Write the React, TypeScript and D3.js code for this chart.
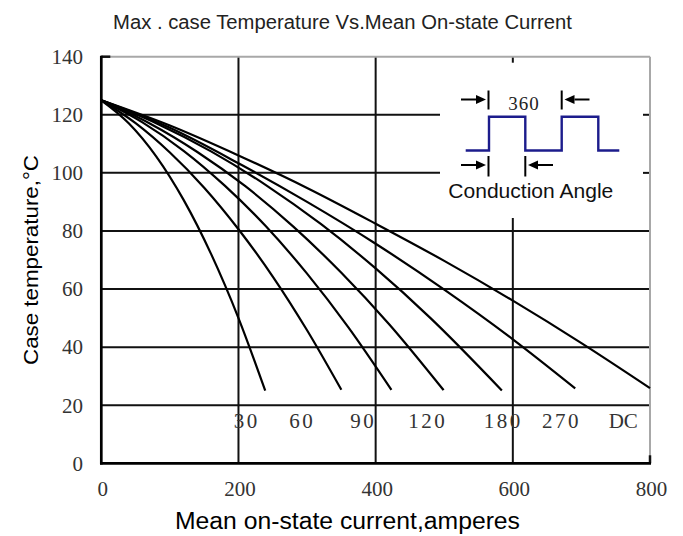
import React from "react";
import * as d3 from "d3";

// ---- data ----
const xTicks = [0, 200, 400, 600, 800];
const yTicks = [0, 20, 40, 60, 80, 100, 120, 140];

const curve30: [number, number][] = [[0, 125], [40, 117.1], [80, 105.7], [120, 90.7], [160, 72.1], [200, 50.0], [239, 25.0]];
const curve60: [number, number][] = [[0, 125], [50, 117.1], [100, 107.0], [150, 94.9], [200, 80.6], [250, 64.3], [300, 45.8], [350, 25.3]];
const curve90: [number, number][] = [[0, 125], [60, 117.4], [120, 107.6], [180, 95.6], [240, 81.6], [300, 65.3], [360, 46.9], [423, 25.3]];
const curve120: [number, number][] = [[0, 125], [70, 117.1], [140, 107.2], [210, 95.4], [280, 81.5], [350, 65.6], [420, 47.8], [499, 25.2]];
const curve180: [number, number][] = [[0, 125], [80, 117.1], [160, 107.4], [240, 95.8], [320, 82.4], [400, 67.1], [480, 50.0], [584, 25.1]];
const curve270: [number, number][] = [[0, 125], [100, 115.5], [200, 103.3], [300, 90.0], [400, 75.6], [500, 59.8], [600, 42.7], [691, 25.8]];
const curveDC: [number, number][] = [[0, 125], [100, 116.3], [200, 106.0], [300, 94.8], [400, 82.5], [500, 69.7], [600, 56.0], [700, 41.4], [800, 25.9]];

const curves = [curve30, curve60, curve90, curve120, curve180, curve270, curveDC];
const curveLabels = ["30", "60", "90", "120", "180", "270", "DC"];
const curveLabelAt = [212, 293, 382, 476, 586, 671, 761]; // amperes
const curveLabelT = 12;

const title = "Max . case Temperature Vs.Mean On-state Current";
const xLabel = "Mean  on-state current,amperes";
const yLabel = "Case temperature,°C";
const insetPeriod = "360";
const insetCaption = "Conduction Angle";

// ---- layout ----
const W = 683;
const H = 536;
const x = d3.scaleLinear().domain([0, 800]).range([101.3, 650]);
const y = d3.scaleLinear().domain([0, 140]).range([463.3, 56.7]);

const SERIF = "'Liberation Serif', 'Times New Roman', serif";
const SANS = "'Liberation Sans', Arial, sans-serif";

const insetLeft = 440;
const insetBottom = 218;

function Arrow({ tipX, y0, dir }: { tipX: number; y0: number; dir: 1 | -1 }) {
  // dir 1: points right (tail on left), -1: points left
  const len = 25;
  const head = 10;
  const tail = tipX - dir * len;
  const base = tipX - dir * head;
  return (
    <g>
      <line x1={tail} y1={y0} x2={base} y2={y0} stroke="#000" strokeWidth={2} />
      <path d={`M${tipX},${y0} L${base},${y0 - 4.5} L${base},${y0 + 4.5} Z`} fill="#000" />
    </g>
  );
}

export default function App() {
  const line = d3
    .line<[number, number]>()
    .x((d) => x(d[0]))
    .y((d) => y(d[1]))
    .curve(d3.curveMonotoneX);

  const x0 = x(0);
  const x1 = x(800);
  const yTop = y(140);
  const yBot = y(0);

  // square wave
  const wLow = 150.5;
  const wHigh = 116.7;
  const wx = [465.7, 489, 525.3, 561.7, 598.3, 619.3];
  const wave = `M${wx[0]},${wLow} L${wx[1]},${wLow} L${wx[1]},${wHigh} L${wx[2]},${wHigh} L${wx[2]},${wLow} L${wx[3]},${wLow} L${wx[3]},${wHigh} L${wx[4]},${wHigh} L${wx[4]},${wLow} L${wx[5]},${wLow}`;

  return (
    <svg width={W} height={H} style={{ display: "block", position: "absolute", left: 0, top: 0, background: "#fff" }}>
      <rect x={0} y={0} width={W} height={H} fill="#fff" />
      {/* title */}
      <text x={342.5} y={29} textAnchor="middle" fontFamily={SANS} fontSize={20} fill="#222" textLength={459} lengthAdjust="spacingAndGlyphs">
        {title}
      </text>

      {/* horizontal grid */}
      {yTicks
        .filter((t) => t > 0 && t < 140)
        .map((t) => {
          const inInset = y(t) < insetBottom;
          return (
            <g key={"h" + t}>
              <line x1={x0} x2={inInset ? insetLeft : x1} y1={y(t)} y2={y(t)} stroke="#111" strokeWidth={2} />
              {inInset && <line x1={x1 - 7} x2={x1} y1={y(t)} y2={y(t)} stroke="#111" strokeWidth={2} />}
            </g>
          );
        })}
      {/* vertical grid */}
      {xTicks
        .filter((t) => t > 0 && t < 800)
        .map((t) => {
          const inInset = x(t) > insetLeft;
          return (
            <g key={"v" + t}>
              <line x1={x(t)} x2={x(t)} y1={inInset ? insetBottom : yTop} y2={yBot} stroke="#111" strokeWidth={2} />
              {inInset && <line x1={x(t)} x2={x(t)} y1={yTop} y2={yTop + 6} stroke="#111" strokeWidth={2} />}
            </g>
          );
        })}

      {/* frame */}
      <line x1={x0} x2={x1} y1={yTop} y2={yTop} stroke="#a8a8a8" strokeWidth={2} />
      <line x1={x1} x2={x1} y1={yTop} y2={yBot} stroke="#a8a8a8" strokeWidth={2} />
      <line x1={x0} x2={x0 + 9} y1={yTop} y2={yTop} stroke="#111" strokeWidth={2.5} />
      <line x1={x1} x2={x1} y1={yBot} y2={yBot - 8} stroke="#111" strokeWidth={2.5} />
      <line x1={x0} x2={x0} y1={yTop - 1} y2={yBot + 1.3} stroke="#000" strokeWidth={2.7} />
      <line x1={x0 - 1.3} x2={x1 + 1} y1={yBot} y2={yBot} stroke="#000" strokeWidth={2.7} />

      {/* curves */}
      {curves.map((c, i) => (
        <path key={"c" + i} d={line(c) || ""} fill="none" stroke="#000" strokeWidth={2.2} strokeLinejoin="round" />
      ))}

      {/* curve labels */}
      {curveLabels.map((l, i) => (
        <text
          key={"l" + i}
          x={x(curveLabelAt[i])}
          y={y(curveLabelT)}
          textAnchor="middle"
          fontFamily={SERIF}
          fontSize={21}
          fill="#333"
          letterSpacing={l === "DC" ? 0 : 2.5}
        >
          {l}
        </text>
      ))}

      {/* y ticks */}
      {yTicks.map((t) => (
        <text key={"yt" + t} x={83} y={y(t)} dy="0.35em" textAnchor="end" fontFamily={SERIF} fontSize={21} fill="#333">
          {t}
        </text>
      ))}
      {/* x ticks */}
      {xTicks.map((t) => (
        <text key={"xt" + t} x={x(t) + 1.5} y={495.5} textAnchor="middle" fontFamily={SERIF} fontSize={21} fill="#333">
          {t}
        </text>
      ))}

      {/* axis labels */}
      <text x={347.5} y={529} textAnchor="middle" fontFamily={SANS} fontSize={23} fill="#000" textLength={345} lengthAdjust="spacingAndGlyphs">
        {xLabel}
      </text>
      <text
        transform={`translate(38,260) rotate(-90)`}
        textAnchor="middle"
        fontFamily={SANS}
        fontSize={21}
        fill="#000"
        textLength={210}
        lengthAdjust="spacingAndGlyphs"
      >
        {yLabel}
      </text>

      {/* inset */}
      <path d={wave} fill="none" stroke="#1c1c8c" strokeWidth={2.4} />
      <line x1={488.5} x2={488.5} y1={90.5} y2={109.5} stroke="#000" strokeWidth={2} />
      <line x1={561.7} x2={561.7} y1={90.5} y2={109.5} stroke="#000" strokeWidth={2} />
      <Arrow tipX={486} y0={99.5} dir={1} />
      <Arrow tipX={564.5} y0={99.5} dir={-1} />
      <text x={524} y={110} textAnchor="middle" fontFamily={SERIF} fontSize={19} fill="#222" letterSpacing={1}>
        {insetPeriod}
      </text>
      <line x1={488.5} x2={488.5} y1={156} y2={176.5} stroke="#000" strokeWidth={2} />
      <line x1={525.3} x2={525.3} y1={156} y2={176.5} stroke="#000" strokeWidth={2} />
      <Arrow tipX={486} y0={165} dir={1} />
      <Arrow tipX={528} y0={165} dir={-1} />
      <text x={530.8} y={198.3} textAnchor="middle" fontFamily={SANS} fontSize={21} fill="#111" textLength={165} lengthAdjust="spacingAndGlyphs">
        {insetCaption}
      </text>
    </svg>
  );
}
